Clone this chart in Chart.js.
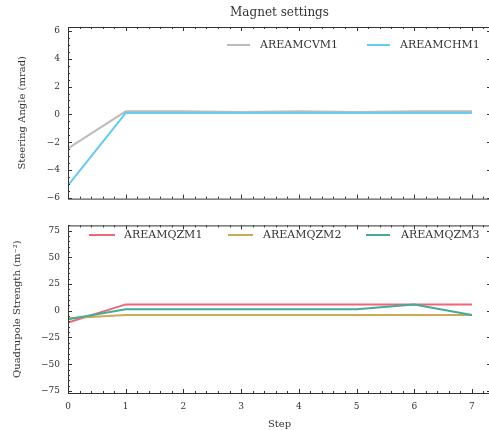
<!DOCTYPE html>
<html>
<head>
<meta charset="utf-8">
<script src="https://cdn.jsdelivr.net/npm/chart.js@4"></script>
<style>
  html, body { margin: 0; padding: 0; width: 489px; height: 430px; overflow: hidden; background: #fff; }
  #wrap { position: relative; width: 489px; height: 430px; }
  canvas { position: absolute; left: 0; }
  #top { top: 0; }
  #bottom { top: 212px; }
</style>
</head>
<body>
<div id="wrap">
  <canvas id="top" width="495" height="212"></canvas>
  <canvas id="bottom" width="495" height="218"></canvas>
</div>
<script>
const steps = [0, 1, 2, 3, 4, 5, 6, 7];
// steering angles (mrad)
const areamcvm1 = [-2.45, 0.22, 0.22, 0.18, 0.22, 0.18, 0.22, 0.22];
const areamchm1 = [-5.1, 0.1, 0.1, 0.1, 0.1, 0.1, 0.1, 0.1];
// quadrupole strengths (m^-2)
const areamqzm1 = [-11, 6, 6, 6, 6, 6, 6, 6];
const areamqzm2 = [-7, -4, -4, -4, -4, -4, -4, -4];
const areamqzm3 = [-8, 1.5, 1.5, 1.5, 1.5, 1.5, 6, -4];

const xTicks = [0, 1, 2, 3, 4, 5, 6, 7];
const angleTicks = [-6, -4, -2, 0, 2, 4, 6];
const strengthTicks = [-75, -50, -25, 0, 25, 50, 75];

const ink = "#333";
const serif = "'DejaVu Serif', 'Liberation Serif', serif";
const tickFont = { family: serif, size: 9 };
const labelFont = { family: serif, size: 10 };

const fmt = (v) => (v < 0 ? "\u2212" + Math.abs(v) : String(v));
const pts = (ys) => steps.map((s, i) => ({ x: s, y: ys[i] }));

// matplotlib-like box: spines, inward ticks on every side, legend and title
const frame = {
  id: "frame",
  afterDatasetsDraw(chart, args, o) {
    const { ctx, chartArea: a, scales } = chart;
    const x = scales.x, y = scales.y;
    ctx.save();
    ctx.strokeStyle = ink;
    ctx.lineWidth = 1;
    ctx.strokeRect(a.left + 0.5, a.top + 0.5, a.right - a.left, a.bottom - a.top);

    const each = (min, max, minor, major, fn) => {
      for (let k = Math.ceil(min / minor - 1e-9); k * minor <= max + 1e-9; k++) {
        const v = k * minor;
        const r = v / major;
        fn(v, Math.abs(r - Math.round(r)) < 1e-6);
      }
    };
    ctx.beginPath();
    each(x.min, x.max, 0.2, 1, (v, big) => {
      const p = Math.round(x.getPixelForValue(v)) + 0.5;
      const len = big ? 4 : 2;
      ctx.moveTo(p, a.bottom); ctx.lineTo(p, a.bottom - len);
      ctx.moveTo(p, a.top); ctx.lineTo(p, a.top + len);
    });
    each(y.min, y.max, o.yMinor, o.yMajor, (v, big) => {
      const p = Math.round(y.getPixelForValue(v)) + 0.5;
      const len = big ? 4 : 2;
      ctx.moveTo(a.left, p); ctx.lineTo(a.left + len, p);
      ctx.moveTo(a.right, p); ctx.lineTo(a.right - len, p);
    });
    ctx.stroke();

    ctx.font = "11px " + serif;
    ctx.textBaseline = "middle";
    ctx.textAlign = "left";
    o.legend.forEach((it) => {
      ctx.strokeStyle = it.color;
      ctx.lineWidth = 2;
      ctx.beginPath();
      ctx.moveTo(it.x0, o.legendY);
      ctx.lineTo(it.x1, o.legendY);
      ctx.stroke();
      ctx.fillStyle = ink;
      ctx.fillText(it.label, it.tx, o.legendY + 0.5);
    });

    if (o.title) {
      ctx.font = "12px " + serif;
      ctx.textAlign = "center";
      ctx.fillText(o.title, (a.left + a.right) / 2, 13);
    }
    ctx.restore();
  },
};

function yAxis(min, max, ticks, title, pad) {
  return {
    type: "linear",
    min: min,
    max: max,
    afterBuildTicks: (s) => { s.ticks = ticks.map((v) => ({ value: v })); },
    afterFit: (s) => { s.width = 68; },
    grid: { display: false, drawTicks: false },
    border: { display: false },
    ticks: { padding: 8, font: tickFont, color: ink, autoSkip: false, callback: fmt },
    title: { display: true, text: title, font: labelFont, color: ink, padding: { top: pad, bottom: 0 } },
  };
}

function line(label, ys, color, order) {
  return {
    label: label,
    data: pts(ys),
    borderColor: color,
    backgroundColor: color,
    borderWidth: 2,
    pointRadius: 0,
    tension: 0,
    order: order,
  };
}

new Chart(document.getElementById("top"), {
  type: "line",
  data: {
    datasets: [
      line("AREAMCVM1", areamcvm1, "#bbbbbb", 2),
      line("AREAMCHM1", areamchm1, "#66ccee", 1),
    ],
  },
  options: {
    responsive: false,
    animation: false,
    devicePixelRatio: 1,
    layout: { padding: { top: 27, bottom: 11, left: 0, right: 4 } },
    scales: {
      x: { type: "linear", min: 0, max: 7.33, display: false },
      y: yAxis(-6.05, 6.28, angleTicks, "Steering Angle (mrad)", 16),
    },
    plugins: {
      legend: { display: false },
      tooltip: { enabled: false },
      frame: {
        yMinor: 0.5,
        yMajor: 2,
        title: "Magnet settings",
        legendY: 45,
        legend: [
          { label: "AREAMCVM1", color: "#bbbbbb", x0: 227, x1: 250, tx: 260 },
          { label: "AREAMCHM1", color: "#66ccee", x0: 367, x1: 390, tx: 400 },
        ],
      },
    },
  },
  plugins: [frame],
});

new Chart(document.getElementById("bottom"), {
  type: "line",
  data: {
    datasets: [
      line("AREAMQZM1", areamqzm1, "#ee6677", 3),
      line("AREAMQZM2", areamqzm2, "#ccaa55", 2),
      line("AREAMQZM3", areamqzm3, "#44aa99", 1),
    ],
  },
  options: {
    responsive: false,
    animation: false,
    devicePixelRatio: 1,
    layout: { padding: { top: 8, bottom: 0, left: 0, right: 4 } },
    scales: {
      x: {
        type: "linear",
        min: 0,
        max: 7.33,
        afterBuildTicks: (s) => { s.ticks = xTicks.map((v) => ({ value: v })); },
        afterFit: (s) => { s.height = 37; },
        grid: { display: false, drawTicks: false },
        border: { display: false },
        ticks: { padding: 8, font: tickFont, color: ink, autoSkip: false, maxRotation: 0 },
        title: { display: true, text: "Step", font: labelFont, color: ink, padding: { top: 0, bottom: 0 } },
      },
      y: yAxis(-77, 80, strengthTicks, "Quadrupole Strength (m\u207B\u00B2)", 11),
    },
    plugins: {
      legend: { display: false },
      tooltip: { enabled: false },
      frame: {
        yMinor: 5,
        yMajor: 25,
        legendY: 23,
        legend: [
          { label: "AREAMQZM1", color: "#ee6677", x0: 89, x1: 115, tx: 124 },
          { label: "AREAMQZM2", color: "#ccaa55", x0: 228, x1: 253, tx: 263 },
          { label: "AREAMQZM3", color: "#44aa99", x0: 366, x1: 390, tx: 401 },
        ],
      },
    },
  },
  plugins: [frame],
});
</script>
</body>
</html>
